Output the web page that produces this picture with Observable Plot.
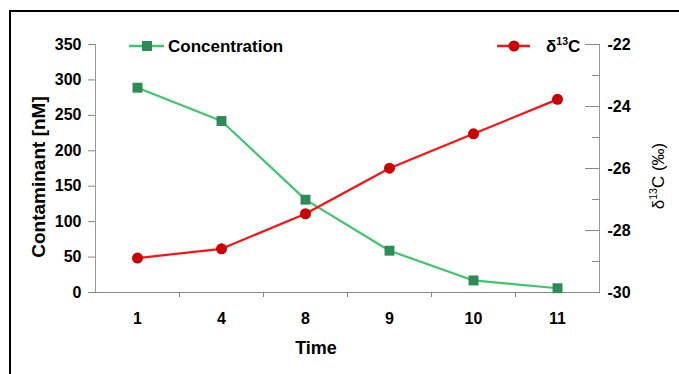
<!DOCTYPE html>
<html>
<head>
<meta charset="utf-8">
<script src="https://cdn.jsdelivr.net/npm/d3@7"></script>
<script src="https://cdn.jsdelivr.net/npm/@observablehq/plot@0.6"></script>
<style>
  html, body { margin: 0; padding: 0; background: #fff; overflow: hidden; }
  #wrap { position: relative; width: 679px; height: 374px; overflow: hidden; font-family: "Liberation Sans", Arial, sans-serif; }
  #border { position: absolute; left: 9px; top: 10px; width: 720px; height: 420px; border: 2px solid #000; box-sizing: border-box; }
  .ov { position: absolute; white-space: nowrap; color: #000; line-height: 1; }
  sup { font-size: 0.62em; vertical-align: 0.6em; line-height: 0; }
</style>
</head>
<body>
<div id="wrap">
  <div id="chart"></div>
  <div id="border"></div>
  <div class="ov" style="left:38px; top:177px; transform: translate(-50%,-50%) rotate(-90deg); font-size:19px; font-weight:bold;">Contaminant [nM]</div>
  <div class="ov" style="left:316px; top:348px; transform: translate(-50%,-50%); font-size:18px; font-weight:bold;">Time</div>
  <div class="ov" style="left:658px; top:176px; transform: translate(-50%,-50%) rotate(-90deg); font-size:17px;">δ<sup>13</sup>C (‰)</div>
  <svg class="ov" style="left:125px; top:38px;" width="44" height="16">
    <line x1="4" y1="8" x2="39" y2="8" stroke="#3cc86a" stroke-width="2.5"/>
    <rect x="17" y="3" width="10" height="10" fill="#2e8b57"/>
  </svg>
  <div class="ov" style="left:168px; top:46px; transform: translateY(-50%); font-size:17px; font-weight:bold;">Concentration</div>
  <svg class="ov" style="left:494px; top:38px;" width="40" height="16">
    <line x1="3" y1="8" x2="36" y2="8" stroke="#ff1010" stroke-width="2.5"/>
    <circle cx="20" cy="8" r="5.5" fill="#cc0000"/>
  </svg>
  <div class="ov" style="left:546px; top:46px; transform: translateY(-50%); font-size:17px; font-weight:bold;">δ<sup>13</sup>C</div>
</div>
<script>
const times = ["1", "4", "8", "9", "10", "11"];
const concentration = [289, 242, 131, 59, 17, 6];
const delta13C = [-28.89, -28.59, -27.46, -25.99, -24.88, -23.77];
const leftTicks = [0, 50, 100, 150, 200, 250, 300, 350];
const rightMajorTicks = [-30, -28, -26, -24, -22];
const rightMinorTicks = [-29, -27, -25, -23];
const rightDomain = [-30, -22];
const leftDomain = [0, 350];

// map δ13C onto the left (concentration) scale
const toLeft = v => (v - rightDomain[0]) / (rightDomain[1] - rightDomain[0]) * (leftDomain[1] - leftDomain[0]) + leftDomain[0];
const fromLeft = y => (y - leftDomain[0]) / (leftDomain[1] - leftDomain[0]) * (rightDomain[1] - rightDomain[0]) + rightDomain[0];

const rows = times.map((t, i) => ({time: t, conc: concentration[i], d13: toLeft(delta13C[i])}));

const plot = Plot.plot({
  width: 679,
  height: 374,
  marginLeft: 95,
  marginRight: 80,
  marginTop: 44,
  marginBottom: 82,
  style: {fontFamily: "'Liberation Sans', Arial, sans-serif", background: "transparent", color: "#000"},
  x: {type: "band", domain: times, padding: 0, label: null},
  y: {domain: leftDomain, label: null},
  marks: [
    Plot.ruleX([times[0]], {dx: -42, stroke: "#999"}),
    Plot.ruleX([times[times.length - 1]], {dx: 42, stroke: "#999"}),
    Plot.ruleY([0], {stroke: "#888"}),
    Plot.axisY({ticks: leftTicks, tickSize: 7, tickPadding: 7, stroke: "#888", fill: "#000", fontSize: 16, fontWeight: "bold", label: null}),
    Plot.axisY({anchor: "right", ticks: rightMajorTicks.map(toLeft), tickSize: 0, tickPadding: 8, fill: "#000", fontSize: 16, fontWeight: "bold", tickFormat: d => String(Math.round(fromLeft(d))), label: null}),
    Plot.axisY({anchor: "right", ticks: rightMajorTicks.map(toLeft), tickSize: -15, fill: "none", stroke: "#888", label: null}),
    Plot.axisY({anchor: "right", ticks: rightMinorTicks.map(toLeft), tickSize: -8, fill: "none", stroke: "#888", label: null}),
    Plot.axisX({tickSize: 0, tickPadding: 20, fill: "#000", fontSize: 16, fontWeight: "bold", label: null}),
    Plot.axisX({ticks: times.slice(1), tickSize: 5, dx: -42, fill: "none", stroke: "#888", label: null}),
    Plot.line(rows, {x: "time", y: "conc", stroke: "#3cc86a", strokeWidth: 2.2}),
    Plot.line(rows, {x: "time", y: "d13", stroke: "#ff1010", strokeWidth: 2.2}),
    Plot.dot(rows, {x: "time", y: "conc", symbol: "square", r: 5.6, fill: "#2e8b57", stroke: "none"}),
    Plot.dot(rows, {x: "time", y: "d13", symbol: "circle", r: 5.5, fill: "#cc0000", stroke: "none"})
  ]
});
document.getElementById("chart").appendChild(plot);
</script>
</body>
</html>
